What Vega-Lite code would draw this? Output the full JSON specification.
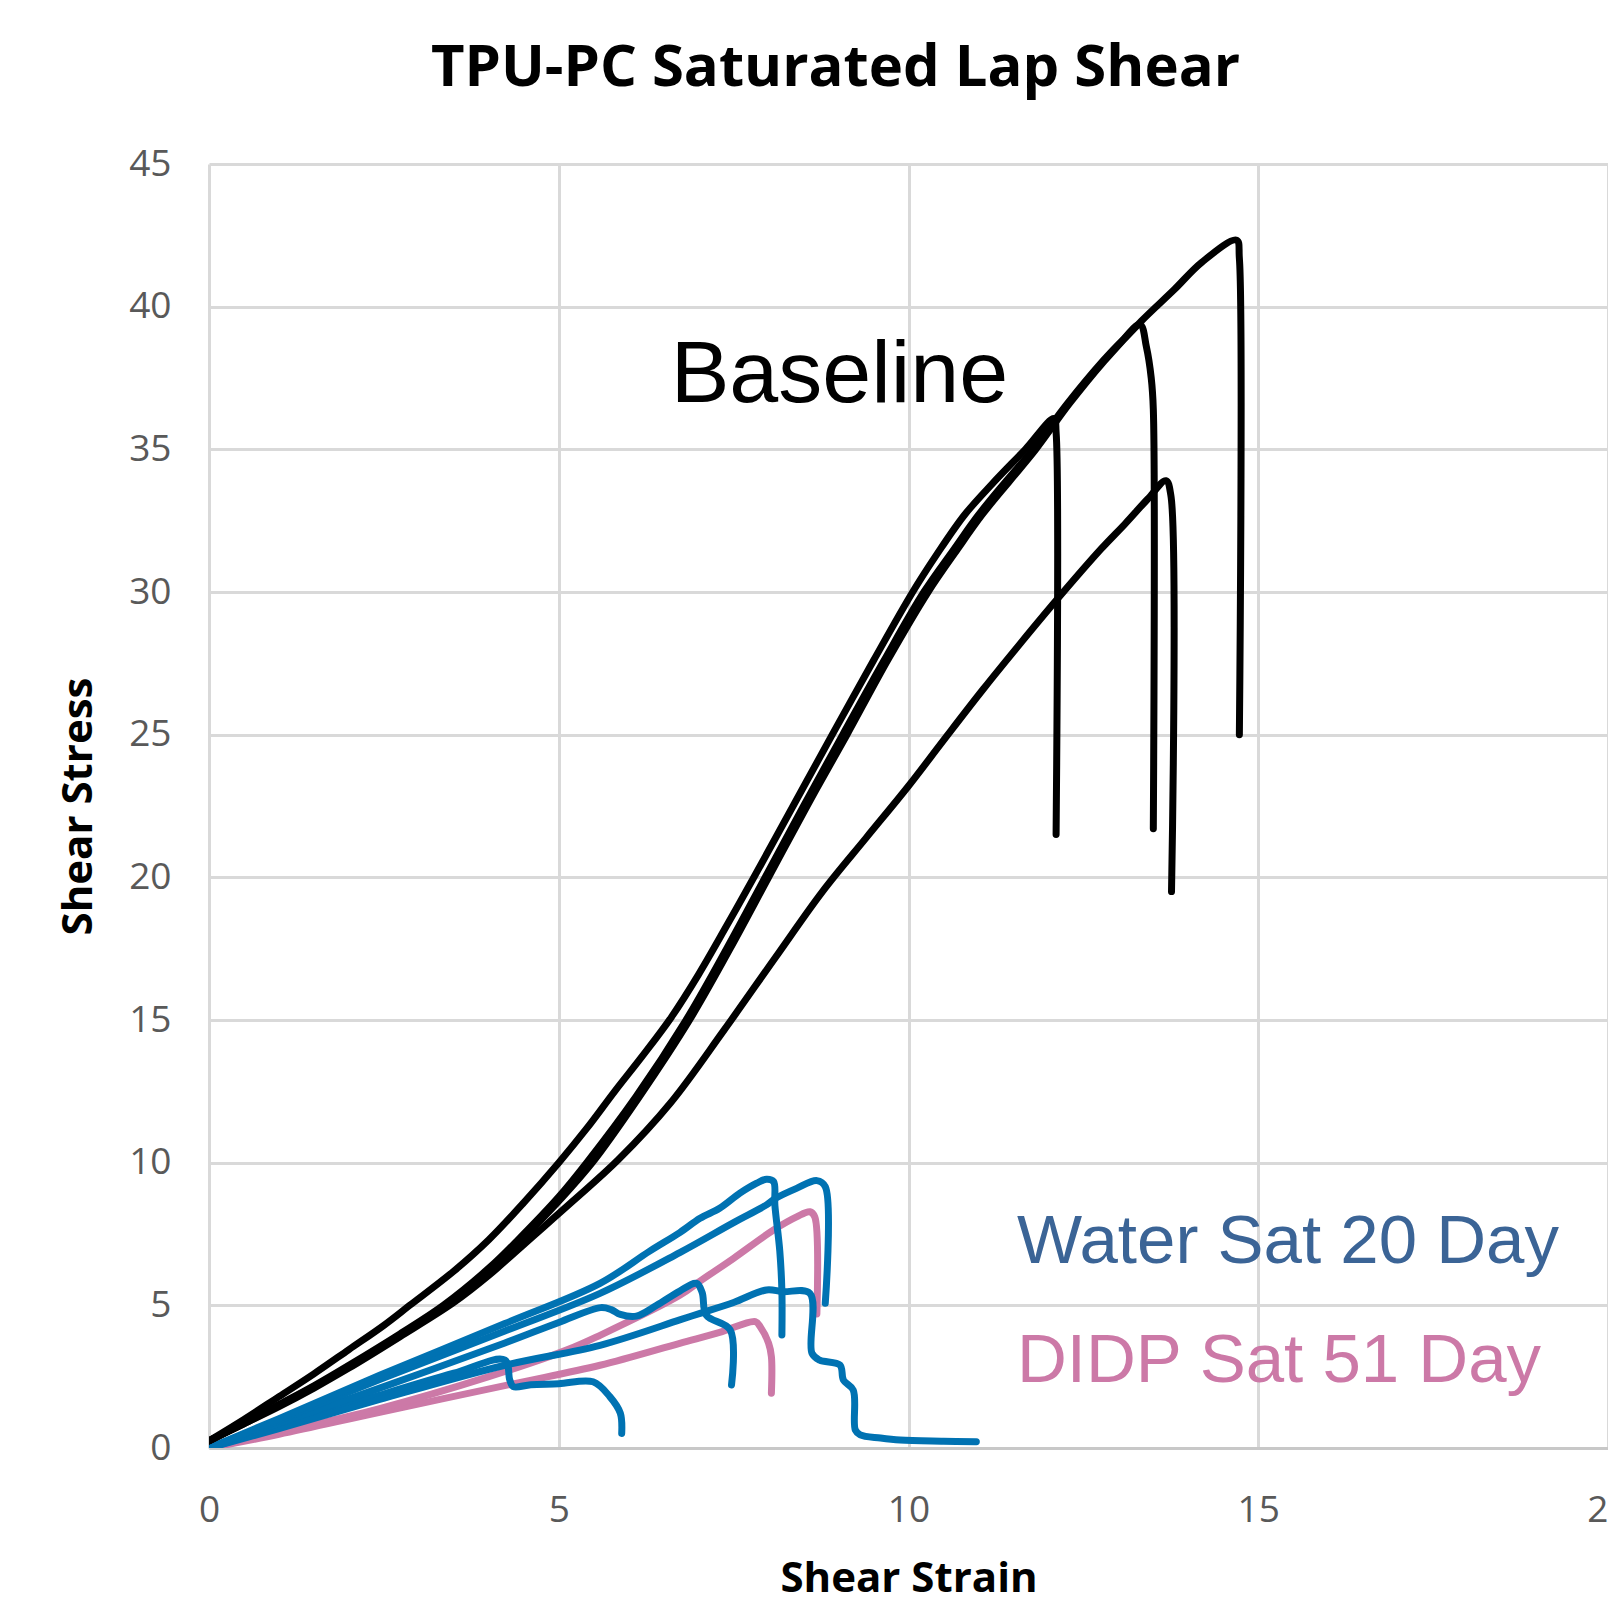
{
  "$schema": "https://vega.github.io/schema/vega-lite/v6.json",
  "width": 1399,
  "height": 1284,
  "autosize": {"type": "none"},
  "padding": {"left": 209, "top": 164, "right": 0, "bottom": 154},
  "background": "white",
  "title": {
    "text": "TPU-PC Saturated Lap Shear",
    "font": "Open Sans",
    "fontSize": 58,
    "fontWeight": "bold",
    "color": "#000000",
    "anchor": "middle",
    "frame": "group",
    "dx": -73,
    "offset": 47
  },
  "config": {
    "view": {"stroke": null},
    "axis": {
      "grid": true,
      "gridColor": "#d9d9d9",
      "gridWidth": 3,
      "ticks": false,
      "labelFont": "Open Sans",
      "labelFontSize": 37,
      "labelColor": "#595959",
      "titleFont": "Open Sans",
      "titleFontSize": 42,
      "titleFontWeight": "bold",
      "titleColor": "#000000"
    }
  },
  "datasets": {
    "curves": [
      {"s":"P2","g":"DIDP","i":0,"x":0,"y":0},{"s":"P2","g":"DIDP","i":1,"x":1,"y":0.48},{"s":"P2","g":"DIDP","i":2,"x":2.44,"y":1.25},{"s":"P2","g":"DIDP","i":3,"x":4.35,"y":2.25},{"s":"P2","g":"DIDP","i":4,"x":5.59,"y":2.9},{"s":"P2","g":"DIDP","i":5,"x":6.73,"y":3.67},{"s":"P2","g":"DIDP","i":6,"x":7.3,"y":4.05},{"s":"P2","g":"DIDP","i":7,"x":7.81,"y":4.43},{"s":"P2","g":"DIDP","i":8,"x":7.88,"y":4.25},{"s":"P2","g":"DIDP","i":9,"x":8.0,"y":3.67},{"s":"P2","g":"DIDP","i":10,"x":8.04,"y":3.2},{"s":"P2","g":"DIDP","i":11,"x":8.04,"y":1.92},
      {"s":"P1","g":"DIDP","i":0,"x":0,"y":0},{"s":"P1","g":"DIDP","i":1,"x":1,"y":0.55},{"s":"P1","g":"DIDP","i":2,"x":2.44,"y":1.38},{"s":"P1","g":"DIDP","i":3,"x":4.0,"y":2.5},{"s":"P1","g":"DIDP","i":4,"x":5.11,"y":3.43},{"s":"P1","g":"DIDP","i":5,"x":5.59,"y":3.95},{"s":"P1","g":"DIDP","i":6,"x":6.73,"y":5.35},{"s":"P1","g":"DIDP","i":7,"x":7.02,"y":5.85},{"s":"P1","g":"DIDP","i":8,"x":7.5,"y":6.65},{"s":"P1","g":"DIDP","i":9,"x":8.07,"y":7.64},{"s":"P1","g":"DIDP","i":10,"x":8.4,"y":8.1},{"s":"P1","g":"DIDP","i":11,"x":8.59,"y":8.28},{"s":"P1","g":"DIDP","i":12,"x":8.66,"y":8.1},{"s":"P1","g":"DIDP","i":13,"x":8.69,"y":4.7},
      {"s":"W5","g":"Water","i":0,"x":0,"y":0},{"s":"W5","g":"Water","i":1,"x":1,"y":0.75},{"s":"W5","g":"Water","i":2,"x":2.44,"y":1.85},{"s":"W5","g":"Water","i":3,"x":3.5,"y":2.62},{"s":"W5","g":"Water","i":4,"x":4.23,"y":3.08},{"s":"W5","g":"Water","i":5,"x":4.3,"y":2.38},{"s":"W5","g":"Water","i":6,"x":4.35,"y":2.15},{"s":"W5","g":"Water","i":7,"x":4.6,"y":2.22},{"s":"W5","g":"Water","i":8,"x":5.0,"y":2.25},{"s":"W5","g":"Water","i":9,"x":5.49,"y":2.32},{"s":"W5","g":"Water","i":10,"x":5.73,"y":1.8},{"s":"W5","g":"Water","i":11,"x":5.88,"y":1.22},{"s":"W5","g":"Water","i":12,"x":5.9,"y":0.51},
      {"s":"W4","g":"Water","i":0,"x":0,"y":0},{"s":"W4","g":"Water","i":1,"x":1,"y":0.68},{"s":"W4","g":"Water","i":2,"x":2.44,"y":1.7},{"s":"W4","g":"Water","i":3,"x":4.23,"y":2.9},{"s":"W4","g":"Water","i":4,"x":5.59,"y":3.6},{"s":"W4","g":"Water","i":5,"x":6.73,"y":4.49},{"s":"W4","g":"Water","i":6,"x":7.02,"y":4.72},{"s":"W4","g":"Water","i":7,"x":7.5,"y":5.1},{"s":"W4","g":"Water","i":8,"x":7.97,"y":5.54},{"s":"W4","g":"Water","i":9,"x":8.2,"y":5.48},{"s":"W4","g":"Water","i":10,"x":8.59,"y":5.42},{"s":"W4","g":"Water","i":11,"x":8.62,"y":3.32},{"s":"W4","g":"Water","i":12,"x":8.73,"y":3.08},{"s":"W4","g":"Water","i":13,"x":9.02,"y":2.91},{"s":"W4","g":"Water","i":14,"x":9.07,"y":2.38},{"s":"W4","g":"Water","i":15,"x":9.21,"y":2.03},{"s":"W4","g":"Water","i":16,"x":9.24,"y":0.63},{"s":"W4","g":"Water","i":17,"x":9.31,"y":0.46},{"s":"W4","g":"Water","i":18,"x":9.6,"y":0.35},{"s":"W4","g":"Water","i":19,"x":9.88,"y":0.28},{"s":"W4","g":"Water","i":20,"x":10.5,"y":0.24},{"s":"W4","g":"Water","i":21,"x":10.97,"y":0.22},
      {"s":"W3","g":"Water","i":0,"x":0,"y":0},{"s":"W3","g":"Water","i":1,"x":1,"y":0.87},{"s":"W3","g":"Water","i":2,"x":2.44,"y":2.1},{"s":"W3","g":"Water","i":3,"x":4.23,"y":3.68},{"s":"W3","g":"Water","i":4,"x":5.0,"y":4.4},{"s":"W3","g":"Water","i":5,"x":5.6,"y":4.92},{"s":"W3","g":"Water","i":6,"x":5.75,"y":4.85},{"s":"W3","g":"Water","i":7,"x":5.88,"y":4.68},{"s":"W3","g":"Water","i":8,"x":6.11,"y":4.62},{"s":"W3","g":"Water","i":9,"x":6.4,"y":5.0},{"s":"W3","g":"Water","i":10,"x":6.73,"y":5.5},{"s":"W3","g":"Water","i":11,"x":6.97,"y":5.77},{"s":"W3","g":"Water","i":12,"x":7.05,"y":5.45},{"s":"W3","g":"Water","i":13,"x":7.11,"y":4.65},{"s":"W3","g":"Water","i":14,"x":7.45,"y":4.14},{"s":"W3","g":"Water","i":15,"x":7.47,"y":2.21},
      {"s":"W2","g":"Water","i":0,"x":0,"y":0},{"s":"W2","g":"Water","i":1,"x":1,"y":0.97},{"s":"W2","g":"Water","i":2,"x":2.44,"y":2.4},{"s":"W2","g":"Water","i":3,"x":4.23,"y":4.1},{"s":"W2","g":"Water","i":4,"x":5.59,"y":5.42},{"s":"W2","g":"Water","i":5,"x":6.73,"y":6.85},{"s":"W2","g":"Water","i":6,"x":7.5,"y":7.9},{"s":"W2","g":"Water","i":7,"x":7.97,"y":8.52},{"s":"W2","g":"Water","i":8,"x":8.1,"y":8.75},{"s":"W2","g":"Water","i":9,"x":8.4,"y":9.1},{"s":"W2","g":"Water","i":10,"x":8.69,"y":9.37},{"s":"W2","g":"Water","i":11,"x":8.81,"y":9.16},{"s":"W2","g":"Water","i":12,"x":8.81,"y":5.07},
      {"s":"W1","g":"Water","i":0,"x":0,"y":0},{"s":"W1","g":"Water","i":1,"x":1,"y":1.03},{"s":"W1","g":"Water","i":2,"x":2.44,"y":2.55},{"s":"W1","g":"Water","i":3,"x":4.23,"y":4.36},{"s":"W1","g":"Water","i":4,"x":5.59,"y":5.77},{"s":"W1","g":"Water","i":5,"x":6.3,"y":6.9},{"s":"W1","g":"Water","i":6,"x":6.73,"y":7.55},{"s":"W1","g":"Water","i":7,"x":7.02,"y":8.05},{"s":"W1","g":"Water","i":8,"x":7.3,"y":8.4},{"s":"W1","g":"Water","i":9,"x":7.59,"y":8.93},{"s":"W1","g":"Water","i":10,"x":7.83,"y":9.28},{"s":"W1","g":"Water","i":11,"x":7.97,"y":9.42},{"s":"W1","g":"Water","i":12,"x":8.07,"y":9.34},{"s":"W1","g":"Water","i":13,"x":8.09,"y":8.5},{"s":"W1","g":"Water","i":14,"x":8.16,"y":6.9},{"s":"W1","g":"Water","i":15,"x":8.19,"y":5.5},{"s":"W1","g":"Water","i":16,"x":8.19,"y":3.96},
      {"s":"D","g":"Baseline","i":0,"x":0,"y":0.25},{"s":"D","g":"Baseline","i":1,"x":0.5,"y":0.85},{"s":"D","g":"Baseline","i":2,"x":1,"y":1.45},{"s":"D","g":"Baseline","i":3,"x":1.5,"y":2.1},{"s":"D","g":"Baseline","i":4,"x":2,"y":2.8},{"s":"D","g":"Baseline","i":5,"x":2.73,"y":3.9},{"s":"D","g":"Baseline","i":6,"x":3.5,"y":5.1},{"s":"D","g":"Baseline","i":7,"x":4,"y":6.05},{"s":"D","g":"Baseline","i":8,"x":4.6,"y":7.35},{"s":"D","g":"Baseline","i":9,"x":5.2,"y":8.65},{"s":"D","g":"Baseline","i":10,"x":5.85,"y":10.1},{"s":"D","g":"Baseline","i":11,"x":6.6,"y":12.1},{"s":"D","g":"Baseline","i":12,"x":7.35,"y":14.6},{"s":"D","g":"Baseline","i":13,"x":8.1,"y":17.2},{"s":"D","g":"Baseline","i":14,"x":8.77,"y":19.5},{"s":"D","g":"Baseline","i":15,"x":9.4,"y":21.4},{"s":"D","g":"Baseline","i":16,"x":10.0,"y":23.2},{"s":"D","g":"Baseline","i":17,"x":10.5,"y":24.8},{"s":"D","g":"Baseline","i":18,"x":11.07,"y":26.6},{"s":"D","g":"Baseline","i":19,"x":11.6,"y":28.2},{"s":"D","g":"Baseline","i":20,"x":12.11,"y":29.7},{"s":"D","g":"Baseline","i":21,"x":12.75,"y":31.5},{"s":"D","g":"Baseline","i":22,"x":13.1,"y":32.4},{"s":"D","g":"Baseline","i":23,"x":13.42,"y":33.26},{"s":"D","g":"Baseline","i":24,"x":13.68,"y":33.9},{"s":"D","g":"Baseline","i":25,"x":13.75,"y":33.4},{"s":"D","g":"Baseline","i":26,"x":13.76,"y":19.5},
      {"s":"B","g":"Baseline","i":0,"x":0,"y":0.25},{"s":"B","g":"Baseline","i":1,"x":0.5,"y":0.87},{"s":"B","g":"Baseline","i":2,"x":1,"y":1.52},{"s":"B","g":"Baseline","i":3,"x":1.5,"y":2.18},{"s":"B","g":"Baseline","i":4,"x":2,"y":2.9},{"s":"B","g":"Baseline","i":5,"x":2.73,"y":4.0},{"s":"B","g":"Baseline","i":6,"x":3.35,"y":5.0},{"s":"B","g":"Baseline","i":7,"x":4,"y":6.3},{"s":"B","g":"Baseline","i":8,"x":4.4,"y":7.25},{"s":"B","g":"Baseline","i":9,"x":5,"y":8.8},{"s":"B","g":"Baseline","i":10,"x":5.4,"y":10.0},{"s":"B","g":"Baseline","i":11,"x":6.1,"y":12.3},{"s":"B","g":"Baseline","i":12,"x":6.82,"y":15.0},{"s":"B","g":"Baseline","i":13,"x":7.4,"y":17.5},{"s":"B","g":"Baseline","i":14,"x":7.95,"y":20.0},{"s":"B","g":"Baseline","i":15,"x":8.5,"y":22.5},{"s":"B","g":"Baseline","i":16,"x":9.06,"y":25.0},{"s":"B","g":"Baseline","i":17,"x":9.65,"y":27.6},{"s":"B","g":"Baseline","i":18,"x":10.22,"y":30.0},{"s":"B","g":"Baseline","i":19,"x":10.65,"y":31.5},{"s":"B","g":"Baseline","i":20,"x":11.0,"y":32.7},{"s":"B","g":"Baseline","i":21,"x":11.4,"y":33.9},{"s":"B","g":"Baseline","i":22,"x":11.78,"y":35.0},{"s":"B","g":"Baseline","i":23,"x":12.27,"y":36.6},{"s":"B","g":"Baseline","i":24,"x":12.78,"y":38.1},{"s":"B","g":"Baseline","i":25,"x":13.05,"y":38.8},{"s":"B","g":"Baseline","i":26,"x":13.31,"y":39.37},{"s":"B","g":"Baseline","i":27,"x":13.4,"y":38.6},{"s":"B","g":"Baseline","i":28,"x":13.47,"y":37.5},{"s":"B","g":"Baseline","i":29,"x":13.5,"y":36.4},{"s":"B","g":"Baseline","i":30,"x":13.5,"y":21.7},
      {"s":"A","g":"Baseline","i":0,"x":0,"y":0.25},{"s":"A","g":"Baseline","i":1,"x":0.5,"y":0.85},{"s":"A","g":"Baseline","i":2,"x":1,"y":1.5},{"s":"A","g":"Baseline","i":3,"x":1.5,"y":2.15},{"s":"A","g":"Baseline","i":4,"x":2,"y":2.85},{"s":"A","g":"Baseline","i":5,"x":2.73,"y":3.95},{"s":"A","g":"Baseline","i":6,"x":3.4,"y":5.0},{"s":"A","g":"Baseline","i":7,"x":4,"y":6.2},{"s":"A","g":"Baseline","i":8,"x":4.45,"y":7.25},{"s":"A","g":"Baseline","i":9,"x":5,"y":8.65},{"s":"A","g":"Baseline","i":10,"x":5.48,"y":10.0},{"s":"A","g":"Baseline","i":11,"x":6.15,"y":12.3},{"s":"A","g":"Baseline","i":12,"x":6.87,"y":15.0},{"s":"A","g":"Baseline","i":13,"x":7.45,"y":17.5},{"s":"A","g":"Baseline","i":14,"x":8.0,"y":20.0},{"s":"A","g":"Baseline","i":15,"x":8.55,"y":22.5},{"s":"A","g":"Baseline","i":16,"x":9.12,"y":25.0},{"s":"A","g":"Baseline","i":17,"x":9.7,"y":27.6},{"s":"A","g":"Baseline","i":18,"x":10.28,"y":30.0},{"s":"A","g":"Baseline","i":19,"x":10.7,"y":31.5},{"s":"A","g":"Baseline","i":20,"x":11.05,"y":32.7},{"s":"A","g":"Baseline","i":21,"x":11.45,"y":33.9},{"s":"A","g":"Baseline","i":22,"x":11.82,"y":35.0},{"s":"A","g":"Baseline","i":23,"x":12.3,"y":36.6},{"s":"A","g":"Baseline","i":24,"x":12.8,"y":38.1},{"s":"A","g":"Baseline","i":25,"x":13.33,"y":39.5},{"s":"A","g":"Baseline","i":26,"x":13.8,"y":40.6},{"s":"A","g":"Baseline","i":27,"x":14.19,"y":41.55},{"s":"A","g":"Baseline","i":28,"x":14.69,"y":42.33},{"s":"A","g":"Baseline","i":29,"x":14.73,"y":41.7},{"s":"A","g":"Baseline","i":30,"x":14.73,"y":25.0},
      {"s":"C","g":"Baseline","i":0,"x":0,"y":0.25},{"s":"C","g":"Baseline","i":1,"x":0.5,"y":1.0},{"s":"C","g":"Baseline","i":2,"x":1,"y":1.8},{"s":"C","g":"Baseline","i":3,"x":1.5,"y":2.6},{"s":"C","g":"Baseline","i":4,"x":2,"y":3.45},{"s":"C","g":"Baseline","i":5,"x":2.5,"y":4.3},{"s":"C","g":"Baseline","i":6,"x":2.87,"y":5.0},{"s":"C","g":"Baseline","i":7,"x":3.5,"y":6.2},{"s":"C","g":"Baseline","i":8,"x":4,"y":7.3},{"s":"C","g":"Baseline","i":9,"x":4.5,"y":8.6},{"s":"C","g":"Baseline","i":10,"x":5,"y":10.0},{"s":"C","g":"Baseline","i":11,"x":5.4,"y":11.2},{"s":"C","g":"Baseline","i":12,"x":5.8,"y":12.5},{"s":"C","g":"Baseline","i":13,"x":6.2,"y":13.75},{"s":"C","g":"Baseline","i":14,"x":6.61,"y":15.1},{"s":"C","g":"Baseline","i":15,"x":7.0,"y":16.6},{"s":"C","g":"Baseline","i":16,"x":7.4,"y":18.3},{"s":"C","g":"Baseline","i":17,"x":7.79,"y":20.0},{"s":"C","g":"Baseline","i":18,"x":8.35,"y":22.5},{"s":"C","g":"Baseline","i":19,"x":8.91,"y":25.0},{"s":"C","g":"Baseline","i":20,"x":9.5,"y":27.6},{"s":"C","g":"Baseline","i":21,"x":10.06,"y":30.0},{"s":"C","g":"Baseline","i":22,"x":10.4,"y":31.3},{"s":"C","g":"Baseline","i":23,"x":10.8,"y":32.7},{"s":"C","g":"Baseline","i":24,"x":11.2,"y":33.8},{"s":"C","g":"Baseline","i":25,"x":11.67,"y":35.0},{"s":"C","g":"Baseline","i":26,"x":12.08,"y":36.08},{"s":"C","g":"Baseline","i":27,"x":12.11,"y":35.6},{"s":"C","g":"Baseline","i":28,"x":12.11,"y":21.5}
    ],
    "notes": [
      {"label": "Baseline", "x": 6.6, "y": 36.66},
      {"label": "Water Sat 20 Day", "x": 11.55, "y": 6.5},
      {"label": "DIDP Sat 51 Day", "x": 11.55, "y": 2.3}
    ]
  },
  "layer": [
    {
      "data": {"name": "curves"},
      "mark": {"type": "line", "strokeCap": "round", "strokeJoin": "round", "clip": true, "interpolate": "catmull-rom"},
      "encoding": {
        "x": {"field": "x", "type": "quantitative", "scale": {"domain": [0, 20], "nice": false},
              "axis": {"values": [0, 5, 10, 15, 20], "format": "d", "title": "Shear Strain", "labelPadding": 44, "titlePadding": 30,
                       "labelFlush": false, "labelOverlap": false, "domain": true, "domainColor": "#c8c8c8", "domainWidth": 3}},
        "y": {"field": "y", "type": "quantitative", "scale": {"domain": [0, 45], "nice": false},
              "axis": {"values": [0, 5, 10, 15, 20, 25, 30, 35, 40, 45], "format": "d", "title": "Shear Stress", "labelPadding": 38, "titlePadding": 28, "domain": false}},
        "detail": {"field": "s", "type": "nominal"},
        "order": {"field": "i", "type": "quantitative"},
        "color": {"field": "g", "type": "nominal", "legend": null,
                  "scale": {"domain": ["DIDP", "Water", "Baseline"], "range": ["#CC79A7", "#0072B2", "#000000"]}},
        "strokeWidth": {"field": "g", "type": "nominal", "legend": null,
                        "scale": {"domain": ["DIDP", "Water", "Baseline"], "range": [7, 7, 6]}}
      }
    },
    {
      "data": {"name": "notes"},
      "transform": [{"filter": "datum.label === 'Baseline'"}],
      "mark": {"type": "text", "align": "left", "baseline": "alphabetic", "font": "Liberation Sans", "fontSize": 88, "color": "#000000"},
      "encoding": {
        "x": {"field": "x", "type": "quantitative"},
        "y": {"field": "y", "type": "quantitative"},
        "text": {"field": "label"}
      }
    },
    {
      "data": {"name": "notes"},
      "transform": [{"filter": "datum.label === 'Water Sat 20 Day'"}],
      "mark": {"type": "text", "align": "left", "baseline": "alphabetic", "font": "Liberation Sans", "fontSize": 69, "color": "#3B6496"},
      "encoding": {
        "x": {"field": "x", "type": "quantitative"},
        "y": {"field": "y", "type": "quantitative"},
        "text": {"field": "label"}
      }
    },
    {
      "data": {"name": "notes"},
      "transform": [{"filter": "datum.label === 'DIDP Sat 51 Day'"}],
      "mark": {"type": "text", "align": "left", "baseline": "alphabetic", "font": "Liberation Sans", "fontSize": 69, "color": "#CC79A7"},
      "encoding": {
        "x": {"field": "x", "type": "quantitative"},
        "y": {"field": "y", "type": "quantitative"},
        "text": {"field": "label"}
      }
    }
  ]
}
